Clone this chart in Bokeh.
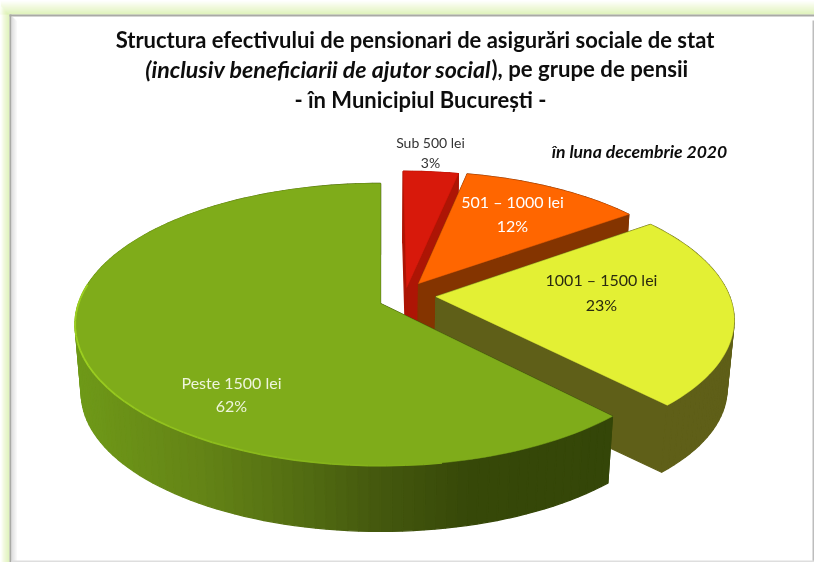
import math
from bokeh.plotting import figure
from bokeh.models import Range1d
from bokeh.core.properties import value
from bokeh.embed import file_html
from bokeh.resources import INLINE

# ---- data ----
categories = ["Sub 500 lei", "501 – 1000 lei", "1001 – 1500 lei", "Peste 1500 lei"]
shares = [3.4, 11.6, 23, 62]
share_labels = ["3%", "12%", "23%", "62%"]

# ---- styling ----
top_colors = ["#d8190b", "#ff6600", "#e3f034", "#7fac1a"]
wall_colors = ["#ad1505", "#843400", "#5f5f18", None]
explode = [(0.088, 0.118), (0.129, 0.148), (0.185, 0.05), (0.0, 0.0)]
radius = [1.0, 0.965, 0.98, 1.0]
label_colors = ["#333333", "#ffffff", "#2a2a10", "#eef5dc"]
label_x = [430, 512, 601, 231]
label_y1 = [142, 201, 279, 382]
label_y2 = [162, 225, 304, 405]
label_size = ["14px", "16px", "16px", "16px"]

CX, CY, RX, RY, K = 380.0, 303.0, 302.0, 138.0, 0.149
DEPTH, SHRINK = 69.0, 0.98


def project(X, Y):
    w = 1 + K * Y
    return CX + RX * X / w, CY - RY * Y / w


def lower(pt):
    return CX + (pt[0] - CX) * SHRINK, CY + (pt[1] - CY) * SHRINK + DEPTH


def lerp_hex(stops, x):
    if x <= stops[0][0]:
        return stops[0][1]
    for (x0, c0), (x1, c1) in zip(stops, stops[1:]):
        if x <= x1:
            t = (x - x0) / (x1 - x0)
            a = [int(c0[i:i + 2], 16) for i in (1, 3, 5)]
            b = [int(c1[i:i + 2], 16) for i in (1, 3, 5)]
            return "#%02x%02x%02x" % tuple(round(p + (q - p) * t) for p, q in zip(a, b))
    return stops[-1][1]


green_wall = [(74, "#6f9a18"), (200, "#648416"), (300, "#536d12"), (380, "#44580e"), (470, "#364808"), (620, "#344608")]

p = figure(width=814, height=562, x_range=Range1d(0, 814), y_range=Range1d(562, 0),
           output_backend="svg", toolbar_location=None, min_border=0,
           outline_line_color=None, background_fill_color="#ffffff", border_fill_color="#ffffff")
p.axis.visible = False
p.grid.visible = False
p.styles = {"position": "fixed", "left": "0px", "top": "0px"}

# ---- frame ----
L, R, T, B, C = [], [], [], [], []
for i in range(14):
    L.append(0); R.append(814); T.append(i); B.append(i + 1)
    C.append(lerp_hex([(0, "#ffffff"), (5, "#f0f9da"), (13, "#d6efa8")], i))
for i in range(9):
    L.append(i); R.append(i + 1); T.append(max(5, i + 6)); B.append(562)
    C.append(lerp_hex([(0, "#ffffff"), (3, "#eef8d4"), (8, "#d6efa8")], i))
L += [9, 9]; R += [814, 11]; T += [14, 14]; B += [16, 562]; C += ["#a9aaa6", "#a9aaa6"]
for i in range(5):
    L.append(11 + i); R.append(12 + i); T.append(16 + i); B.append(562)
    C.append(lerp_hex([(0, "#d4d4d4"), (4, "#f2f2f2")], i))
L += [812, 11]; R += [814, 814]; T += [20, 560]; B += [562, 562]; C += ["#bdbdbd", "#dedede"]
p.quad(left=L, right=R, top=T, bottom=B, fill_color=C, line_color=None)

# ---- pie ----
total = sum(shares)
angle = 0.0
for share, top, wall, (ox, oy), rad in zip(shares, top_colors, wall_colors, explode, radius):
    a0 = angle
    a1 = angle + 2 * math.pi * share / total
    angle = a1
    n = max(6, int(share * 2))
    arc = [project(ox + rad * math.sin(a0 + (a1 - a0) * i / n), oy + rad * math.cos(a0 + (a1 - a0) * i / n))
           for i in range(n + 1)]
    apex = project(ox, oy)
    outline = [apex] + arc
    quads = []
    m = len(outline)
    for i in range(m):
        a, b = outline[i], outline[(i + 1) % m]
        quads.append((a, b, lower(b), lower(a)))
    quads.sort(key=lambda q: q[0][1] + q[1][1])
    xs = [[v[0] for v in q] for q in quads]
    ys = [[v[1] for v in q] for q in quads]
    cols = [wall if wall else lerp_hex(green_wall, sum(x) / 4) for x in xs]
    p.patches(xs, ys, fill_color=cols, line_color=cols, line_width=1.3)
    p.patch([v[0] for v in outline], [v[1] for v in outline], fill_color=top, line_color=top, line_width=0.5)
    if wall is None:
        # light bevel along the near rim of the large slice, fading towards the front
        seg_x, seg_y, seg_c = [], [], []
        for d in range(170, 276, 3):
            pa = project(rad * math.sin(math.radians(d)), rad * math.cos(math.radians(d)))
            pb = project(rad * math.sin(math.radians(d + 3)), rad * math.cos(math.radians(d + 3)))
            seg_x.append([pa[0], pb[0]])
            seg_y.append([pa[1], pb[1]])
            seg_c.append(lerp_hex([(170, top), (245, "#9ccf20"), (276, "#9ccf20")], d))
        p.multi_line(seg_x, seg_y, line_color=seg_c, line_width=1.8)

# ---- labels ----
for x, y1, y2, cat, lab, col, size in zip(label_x, label_y1, label_y2, categories, share_labels, label_colors, label_size):
    p.text([x], [y1], text=[cat], text_color=col, text_font=value("Lato"), text_font_size=size,
           text_align="center", text_baseline="middle")
    p.text([x], [y2], text=[lab], text_color=col, text_font=value("Lato"), text_font_size=size,
           text_align="center", text_baseline="middle")

# ---- titles ----
def txt(x, y, s, style, size, align="center", color="#0d0d0d"):
    p.text([x], [y], text=[s], text_color=color, text_font=value("Lato"), text_font_size=size,
           text_font_style=style, text_align=align, text_baseline="middle")


txt(414.5, 39, "Structura efectivului de pensionari de asigurări sociale de stat", "bold", "22px")
txt(491, 68, "(inclusiv beneficiarii de ajutor social", "bold italic", "23.2px", "right")
txt(491, 68, "), pe grupe de pensii", "bold", "22.2px", "left")
txt(420, 99, "- în Municipiul București -", "bold", "22px")
txt(639, 151, "în luna decembrie 2020", "bold italic", "17.6px")

open("out.html", "w").write(file_html(p, INLINE))
